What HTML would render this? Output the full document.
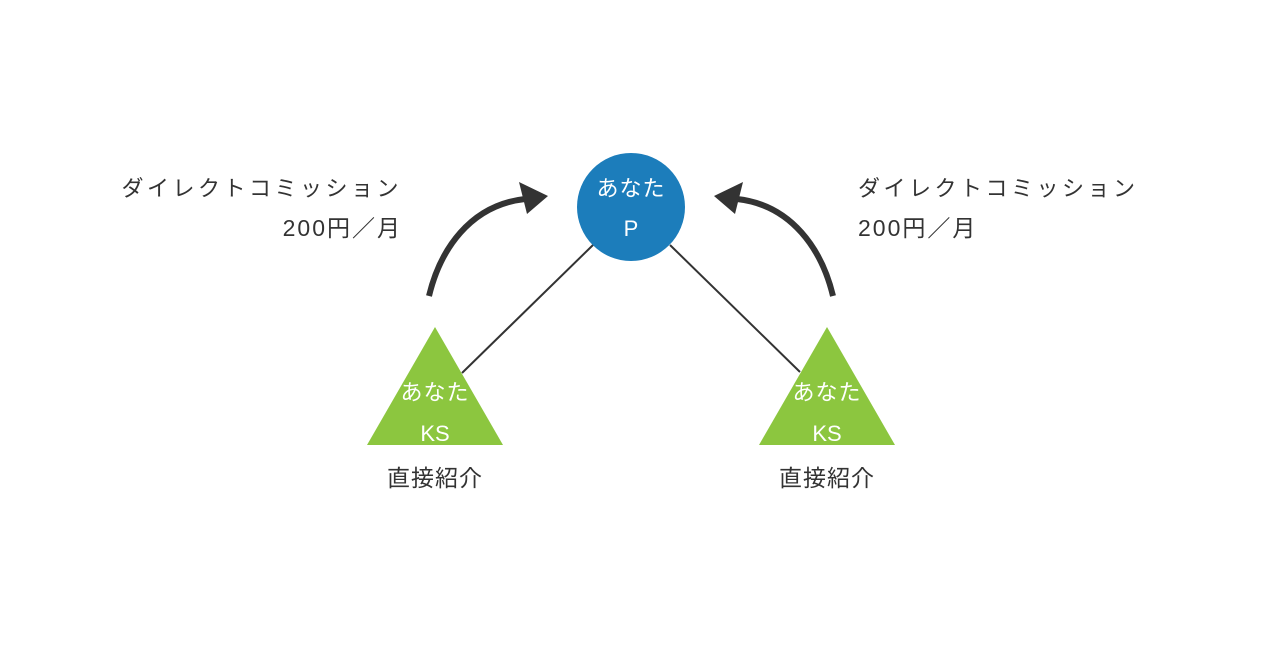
<!DOCTYPE html>
<html><head><meta charset="utf-8"><style>
body{margin:0;width:1280px;height:640px;background:#fff;overflow:hidden}
svg text{font-family:"Liberation Sans","Noto Sans CJK JP",sans-serif;font-size:22px}
</style></head><body>
<svg width="1280" height="640" viewBox="0 0 1280 640">
<line x1="593" y1="245" x2="462" y2="373" stroke="#333" stroke-width="2"/>
<line x1="670" y1="245" x2="800" y2="372" stroke="#333" stroke-width="2"/>
<circle cx="631" cy="207" r="54" fill="#1c7dbb"/>
<polygon points="435,327 367,445 503,445" fill="#8cc63f"/>
<polygon points="827,327 759,445 895,445" fill="#8cc63f"/>
<path d="M429,296 C440,250 470,205 525,199" fill="none" stroke="#333" stroke-width="6"/>
<polygon points="519,182 527,214 548,196" fill="#333"/>
<path d="M833,296 C822,250 792,205 737,199" fill="none" stroke="#333" stroke-width="6"/>
<polygon points="743,182 735,214 714,196" fill="#333"/>
<g fill="#fff" text-anchor="middle" style="font-size:24px">
<text x="631" y="196" letter-spacing="1">あなた</text>
<text x="631" y="236">P</text>
<text x="435" y="400" letter-spacing="1">あなた</text>
<text x="435" y="441">KS</text>
<text x="827" y="400" letter-spacing="1">あなた</text>
<text x="827" y="441">KS</text>
</g>
<g fill="#333">
<text x="435" y="486" text-anchor="middle" style="font-size:23px" letter-spacing="1">直接紹介</text>
<text x="827" y="486" text-anchor="middle" style="font-size:23px" letter-spacing="1">直接紹介</text>
<text x="402" y="196" text-anchor="end" letter-spacing="3.5">ダイレクトコミッション</text>
<text x="402" y="236" text-anchor="end" style="font-size:23px" letter-spacing="2">200円／月</text>
<text x="858" y="196" letter-spacing="3.5">ダイレクトコミッション</text>
<text x="858" y="236" style="font-size:23px" letter-spacing="2">200円／月</text>
</g>
</svg>
</body></html>
